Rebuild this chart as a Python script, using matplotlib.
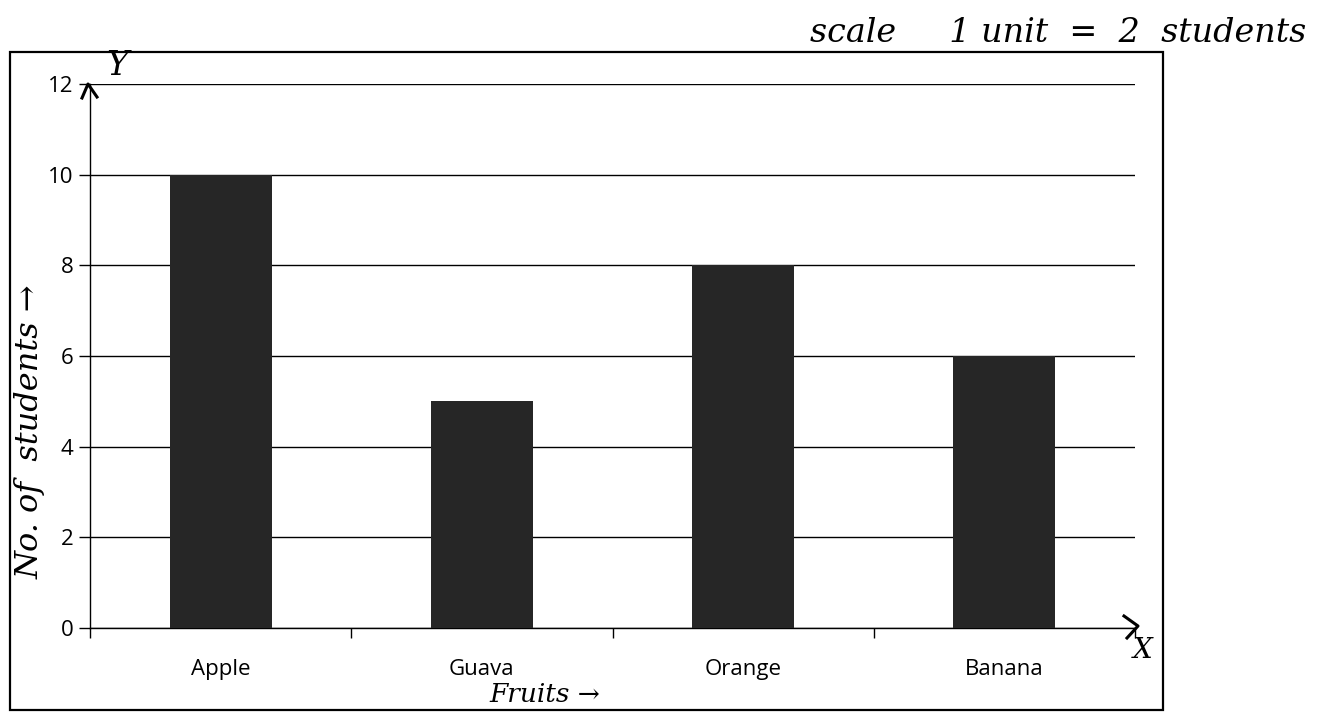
import matplotlib.pyplot as plt
import matplotlib.patches as patches
from matplotlib.lines import Line2D
import numpy as np

# dados do grafico
frutas = ["Apple", "Guava", "Orange", "Banana"]
alunos = [10, 5, 8, 6]
ticks_y = [0, 2, 4, 6, 8, 10, 12]

W, H = 1322, 713
fig = plt.figure(figsize=(W / 100, H / 100), dpi=100)
fig.patch.set_facecolor("white")


def px(xp, yp):
    # pixel (a partir do canto superior esquerdo) -> fracao da figura
    return xp / W, 1 - yp / H


# moldura externa do grafico
moldura = patches.Rectangle((10 / W, 3 / H), 1153 / W, 658 / H,
                            transform=fig.transFigure, fill=False,
                            edgecolor="black", lw=1.6)
fig.add_artist(moldura)

ax = fig.add_axes([90 / W, 85 / H, 1045 / W, 544 / H])
x = np.arange(len(frutas))
ax.bar(x, alunos, width=0.39, color="#262626", zorder=3)

ax.set_xlim(-0.5, len(frutas) - 0.5)
ax.set_ylim(0, 12)
ax.set_yticks(ticks_y)
ax.set_yticklabels([str(t) for t in ticks_y], fontsize=16, family="Open Sans")
ax.yaxis.grid(True, color="black", lw=1.0, zorder=0)
ax.set_axisbelow(True)

# ticks do eixo x nas fronteiras das categorias
ax.set_xticks(np.arange(-0.5, len(frutas), 1.0))
ax.set_xticklabels([])
ax.set_xticks(x, minor=True)
ax.set_xticklabels(frutas, minor=True, fontsize=16, family="Open Sans")
ax.tick_params(axis="x", which="minor", length=0, pad=22)
ax.tick_params(axis="x", which="major", length=7, width=1, direction="out")
ax.tick_params(axis="y", length=8, width=1, pad=4)

for lado in ["top", "right"]:
    ax.spines[lado].set_visible(False)
ax.spines["left"].set_linewidth(1.0)
ax.spines["bottom"].set_linewidth(1.0)

# setas desenhadas a mao
for pts in ([(82, 98), (88, 84), (97, 97)], [(1124, 616), (1138, 626), (1127, 638)]):
    xs, ys = zip(*[px(a, b) for a, b in pts])
    fig.add_artist(Line2D(xs, ys, transform=fig.transFigure, color="black", lw=2.2))

# anotacoes feitas a mao
mao = dict(family="DejaVu Serif", style="italic", color="black")
fig.text(*px(117, 66), "Y", fontsize=24, ha="center", va="center", **mao)
fig.text(*px(1143, 650), "X", fontsize=20, ha="center", va="center", **mao)
fig.text(*px(30, 432), "No. of  students \u2192", fontsize=23, rotation=90,
         ha="center", va="center", **mao)
fig.text(*px(545, 694), "Fruits \u2192", fontsize=19, ha="center", va="center", **mao)
fig.text(*px(810, 33), "scale     1 unit  =  2  students", fontsize=24,
         ha="left", va="center", **mao)

fig.savefig("out.png", dpi=100)
